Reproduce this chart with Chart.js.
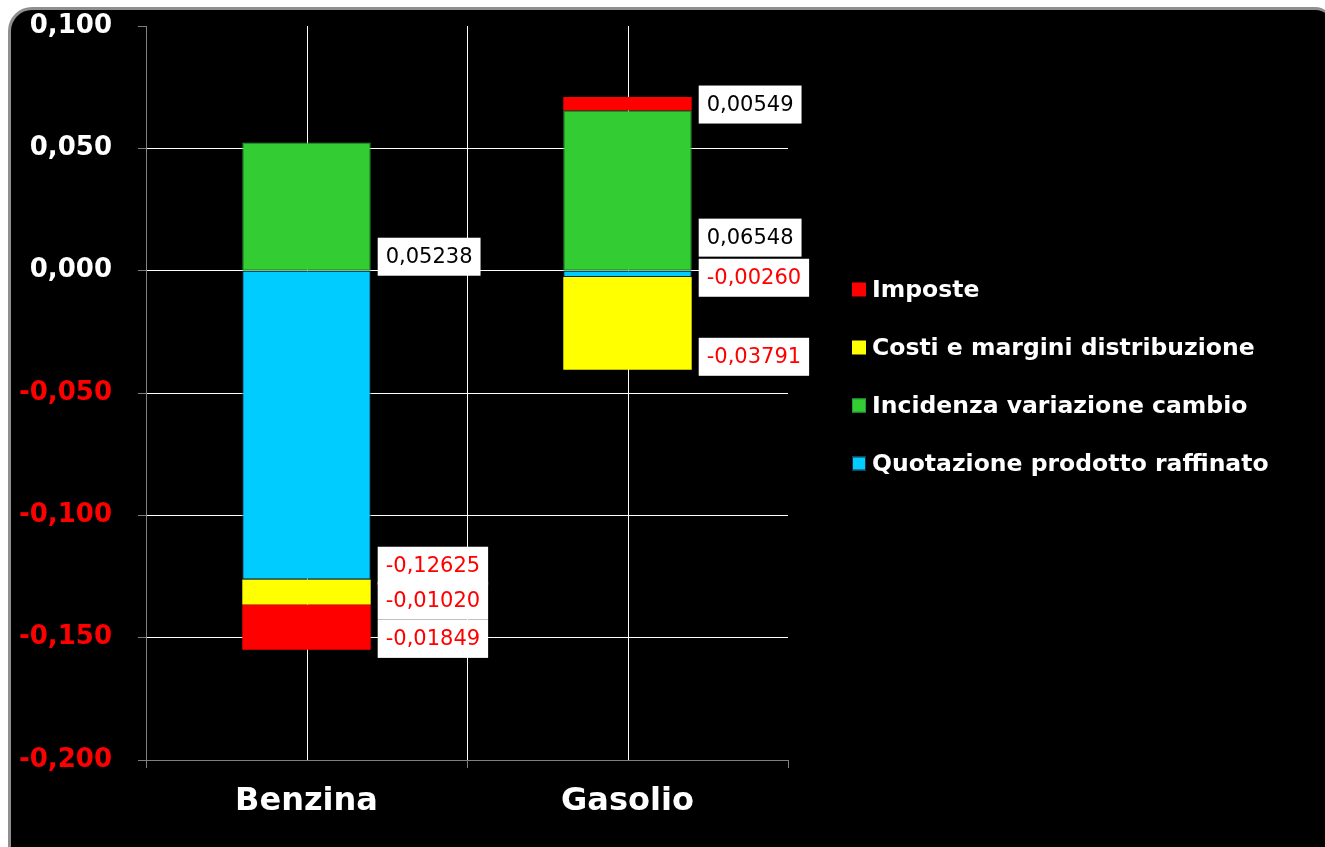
<!DOCTYPE html>
<html>
<head>
<meta charset="utf-8">
<script src="https://cdn.jsdelivr.net/npm/chart.js@4.4.1/dist/chart.umd.min.js"></script>
<style>
  html, body { margin: 0; padding: 0; background: #fff; overflow: hidden; }
  #panel {
    position: absolute; left: 8px; top: 7px; width: 1322px; height: 900px;
    background: #000; border-left: 3px solid #8f8f8f; border-top: 3px solid #8f8f8f;
    border-radius: 24px 18px 0 0;
  }
  #chart { position: absolute; left: 0; top: 0; }
</style>
</head>
<body>
<div id="panel"></div>
<canvas id="chart" width="1325" height="847"></canvas>
<script>
// data
const categories = ['Benzina', 'Gasolio'];
const quotazione = [-0.12625, -0.00260];
const incidenza = [0.05238, 0.06548];
const costi = [-0.01020, -0.03791];
const imposte = [-0.01849, 0.00549];

// where each value box sits on the axis (boxes were moved by hand in the original)
const quotazioneLabelAt = [-0.1206, -0.0029];
const incidenzaLabelAt = [0.0057, 0.0135];
const costiLabelAt = [-0.1349, -0.0352];
const imposteLabelAt = [-0.1505, 0.0679];

const yMin = -0.2, yMax = 0.1, yStep = 0.05;

const fmt = (v, d) => (Math.round(v * 1e6) / 1e6).toFixed(d).replace('.', ',');

// white lines through the middle of each category
const centerLines = {
    id: 'centerLines',
    beforeDatasetsDraw(chart) {
        const {ctx, chartArea, scales: {x}} = chart;
        ctx.save();
        ctx.strokeStyle = '#ffffff';
        ctx.lineWidth = 1;
        categories.forEach((c, i) => {
            const px = Math.round(x.getPixelForValue(i)) + 0.5;
            ctx.beginPath();
            ctx.moveTo(px, chartArea.top);
            ctx.lineTo(px, chartArea.bottom);
            ctx.stroke();
        });
        ctx.restore();
    }
};

// white value boxes next to the bars
const valueBoxes = {
    id: 'valueBoxes',
    afterDatasetsDraw(chart) {
        const {ctx, scales: {y}} = chart;
        ctx.save();
        ctx.font = '21px "DejaVu Sans"';
        ctx.textBaseline = 'middle';
        chart.data.datasets.forEach((ds, di) => {
            const meta = chart.getDatasetMeta(di);
            meta.data.forEach((bar, i) => {
                const v = ds.data[i];
                const text = fmt(v, 5);
                const w = ctx.measureText(text).width + 16;
                const h = 38;
                const left = bar.x + bar.width / 2 + 7;
                const cy = y.getPixelForValue(ds.labelAt[i]);
                ctx.fillStyle = '#ffffff';
                ctx.fillRect(left, cy - h / 2, w, h);
                ctx.fillStyle = v < 0 ? '#ff0000' : '#000000';
                ctx.fillText(text, left + 8, cy + 1);
            });
        });
        ctx.restore();
    }
};

// legend on the right, last series first
const sideLegend = {
    id: 'sideLegend',
    afterDraw(chart) {
        const {ctx, chartArea} = chart;
        const items = chart.data.datasets.slice().reverse();
        const mid = (chartArea.top + chartArea.bottom) / 2 - 16.5;
        const bx = chartArea.right + 64;
        ctx.save();
        ctx.font = 'bold 23.5px "DejaVu Sans"';
        ctx.textBaseline = 'middle';
        items.forEach((ds, i) => {
            const cy = mid + (i - (items.length - 1) / 2) * 58;
            ctx.fillStyle = ds.backgroundColor;
            ctx.fillRect(bx, cy - 7, 14, 14);
            if (ds.borderWidth) {
                ctx.strokeStyle = ds.borderColor;
                ctx.lineWidth = 1;
                ctx.strokeRect(bx + 0.5, cy - 6.5, 13, 13);
            }
            ctx.fillStyle = '#ffffff';
            ctx.fillText(ds.label, bx + 20, cy + 1);
        });
        ctx.restore();
    }
};

new Chart(document.getElementById('chart'), {
    type: 'bar',
    data: {
        labels: categories,
        datasets: [
            { label: 'Quotazione prodotto raffinato', data: quotazione, labelAt: quotazioneLabelAt,
              backgroundColor: '#00ccff', borderColor: '#1b2b44', borderWidth: 1, borderSkipped: false },
            { label: 'Incidenza variazione cambio', data: incidenza, labelAt: incidenzaLabelAt,
              backgroundColor: '#33cc33', borderColor: '#1f9e3f', borderWidth: 1, borderSkipped: false },
            { label: 'Costi e margini distribuzione', data: costi, labelAt: costiLabelAt,
              backgroundColor: '#ffff00', borderWidth: 0 },
            { label: 'Imposte', data: imposte, labelAt: imposteLabelAt,
              backgroundColor: '#ff0000', borderWidth: 0 }
        ]
    },
    options: {
        responsive: false,
        animation: false,
        devicePixelRatio: 1,
        categoryPercentage: 0.8,
        barPercentage: 0.5,
        layout: { padding: { top: 26, right: 537, bottom: 0, left: 0 } },
        plugins: {
            legend: { display: false },
            tooltip: { enabled: false }
        },
        scales: {
            x: {
                stacked: true,
                afterFit: (s) => { s.height = 87; s.paddingLeft = 0; s.paddingRight = 0; },
                border: { color: '#808080', width: 1 },
                grid: {
                    offset: true,
                    color: (c) => c.index === 1 ? '#ffffff' : 'rgba(0,0,0,0)',
                    tickColor: '#808080',
                    tickLength: 8
                },
                ticks: {
                    color: '#ffffff',
                    padding: 14,
                    font: { family: 'DejaVu Sans', weight: 'bold', size: 32 }
                }
            },
            y: {
                stacked: true,
                min: yMin,
                max: yMax,
                afterFit: (s) => { s.width = 146; s.paddingTop = 0; s.paddingBottom = 0; },
                border: { color: '#808080', width: 1 },
                grid: {
                    color: (c) => {
                        const v = c.tick ? c.tick.value : 0;
                        if (Math.abs(v - yMax) < 1e-9) return 'rgba(0,0,0,0)';
                        if (Math.abs(v - yMin) < 1e-9) return '#808080';
                        return '#ffffff';
                    },
                    tickColor: '#808080',
                    tickLength: 8
                },
                ticks: {
                    stepSize: yStep,
                    padding: 26,
                    color: (c) => c.tick.value < -1e-9 ? '#ff0000' : '#ffffff',
                    font: { family: 'DejaVu Sans', weight: 'bold', size: 26 },
                    callback: (v) => fmt(v, 3)
                }
            }
        }
    },
    plugins: [centerLines, valueBoxes, sideLegend]
});
</script>
</body>
</html>
